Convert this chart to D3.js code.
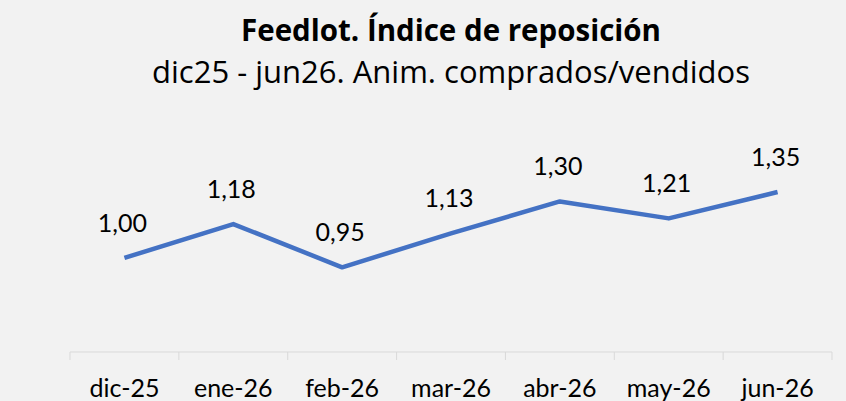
<!DOCTYPE html>
<html>
<head>
<meta charset="utf-8">
<script src="https://cdn.jsdelivr.net/npm/d3@7"></script>
<style>
  body { margin: 0; background: #f2f2f2; }
  svg { display: block; font-family: Lato, "Open Sans", sans-serif; }
</style>
</head>
<body>
<div id="chart"></div>
<script>
// chart data
var months = ["dic-25", "ene-26", "feb-26", "mar-26", "abr-26", "may-26", "jun-26"];
var indice = [1.00, 1.18, 0.95, 1.13, 1.30, 1.21, 1.35];

var titleText = "Feedlot. Índice de reposición";
var subtitleText = "dic25 - jun26. Anim. comprados/vendidos";

// svg element dimensions
var w = 846,
    h = 401;

var svg = d3.select("#chart").append("svg").attr("width", w).attr("height", h);

svg.append("rect").attr("width", w).attr("height", h).attr("fill", "#f2f2f2");

// titles
svg.append("text")
    .attr("x", 451).attr("y", 41)
    .attr("text-anchor", "middle")
    .style("font-family", "'Open Sans', sans-serif")
    .style("font-size", "29.5px").style("font-weight", "bold").style("fill", "#000")
    .text(titleText);

svg.append("text")
    .attr("x", 451).attr("y", 83)
    .attr("text-anchor", "middle")
    .style("font-family", "'Open Sans', sans-serif")
    .style("font-size", "31px").style("fill", "#000")
    .text(subtitleText);

// scales
var x = d3.scaleBand().domain(months).range([70, 832]);
var y = d3.scaleLinear().domain([0.5, 1.6]).range([352, 145]);

// x axis (ticks between categories, like excel)
var axis = svg.append("g").attr("transform", "translate(0,352)");
axis.append("line")
    .attr("x1", x.range()[0]).attr("x2", x.range()[1])
    .attr("stroke", "#d9d9d9").attr("stroke-width", 1);

var edges = months.map(function(m) { return x(m); }).concat([x.range()[1]]);
axis.selectAll(".tick-mark")
    .data(edges)
    .enter().append("line")
    .attr("class", "tick-mark")
    .attr("x1", function(d) { return d; }).attr("x2", function(d) { return d; })
    .attr("y1", 0).attr("y2", 8)
    .attr("stroke", "#d9d9d9").attr("stroke-width", 1);

axis.selectAll(".cat")
    .data(months)
    .enter().append("text")
    .attr("class", "cat")
    .attr("x", function(d) { return x(d) + x.bandwidth() / 2; })
    .attr("y", 45)
    .attr("text-anchor", "middle")
    .style("font-size", "25px").style("fill", "#000")
    .text(function(d) { return d; });

// line
var line = d3.line()
    .x(function(d, i) { return x(months[i]) + x.bandwidth() / 2; })
    .y(function(d) { return y(d); });

svg.append("path")
    .datum(indice)
    .attr("d", line)
    .attr("fill", "none")
    .attr("stroke", "#4472c4")
    .attr("stroke-width", 4.5)
    .attr("stroke-linejoin", "round");

// data labels
var fmt = function(v) { return d3.format(".2f")(v).replace(".", ","); };

svg.selectAll(".lbl")
    .data(indice)
    .enter().append("text")
    .attr("class", "lbl")
    .attr("x", function(d, i) { return x(months[i]) + x.bandwidth() / 2 - 2; })
    .attr("y", function(d) { return y(d) - 26; })
    .attr("text-anchor", "middle")
    .style("font-size", "25px").style("fill", "#000")
    .text(fmt);
</script>
</body>
</html>
